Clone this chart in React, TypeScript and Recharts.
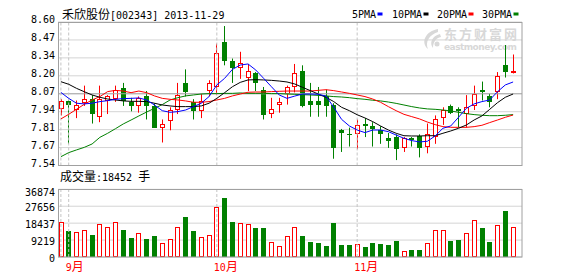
import { ComposedChart, Bar, Line, XAxis, YAxis, CartesianGrid, ReferenceLine } from 'recharts';

const DATES = [
  '08-30',
  '09-02', '09-03', '09-04', '09-05', '09-06', '09-09', '09-10', '09-11', '09-12', '09-13',
  '09-16', '09-17', '09-18', '09-23', '09-24', '09-25', '09-26', '09-27', '09-30',
  '10-08', '10-09', '10-10', '10-11', '10-14', '10-15', '10-16', '10-17', '10-18',
  '10-21', '10-22', '10-23', '10-24', '10-25', '10-28', '10-29', '10-30', '10-31',
  '11-01', '11-04', '11-05', '11-06', '11-07', '11-08', '11-11', '11-12', '11-13', '11-14', '11-15',
  '11-18', '11-19', '11-20', '11-21', '11-22', '11-25', '11-26', '11-27', '11-28', '11-29',
];

const OPEN = [
  7.96, 8.02, 7.95, 8.0, 8.03, 7.9, 8.02, 8.03, 8.11, 8.01,
  7.98, 8.05, 7.98, 7.82, 7.87, 7.95, 8.15, 8.01, 7.94, 8.09,
  8.12, 8.45, 8.31, 8.26, 8.19, 8.22, 8.1, 7.92, 7.99, 8.07,
  8.12, 8.24, 8.02, 8.02, 8.05, 7.99, 7.8, 7.775, 7.77, 7.85,
  7.83, 7.8, 7.74, 7.75, 7.67, 7.74, 7.76, 7.68, 7.75, 7.89,
  7.98, 7.955, 7.92, 7.98, 8.1, 8.05, 8.08, 8.28, 8.23,
];
const HIGH = [
  8.03, 8.02, 8.02, 8.13, 8.06, 8.13, 8.06, 8.13, 8.15, 8.04,
  8.05, 8.09, 8.0, 7.88, 7.97, 8.15, 8.25, 8.03, 8.07, 8.17,
  8.44, 8.57, 8.33, 8.38, 8.29, 8.23, 8.12, 8.04, 8.04, 8.13,
  8.29, 8.28, 8.15, 8.12, 8.1, 8.0, 7.81, 7.82, 7.88, 7.89,
  7.86, 7.83, 7.78, 7.77, 7.75, 7.75, 7.77, 7.85, 7.91, 7.97,
  7.99, 7.97, 8.06, 8.13, 8.16, 8.07, 8.23, 8.43, 8.36,
];
const LOW = [
  7.91, 7.7, 7.89, 7.98, 7.85, 7.86, 7.92, 8.01, 7.98, 7.94,
  7.93, 7.88, 7.82, 7.71, 7.8, 7.92, 8.05, 7.88, 7.89, 8.05,
  8.06, 8.28, 8.15, 8.18, 8.09, 8.09, 7.88, 7.89, 7.93, 7.99,
  8.08, 7.97, 7.9, 7.9, 7.9, 7.59, 7.64, 7.68, 7.66, 7.75,
  7.68, 7.7, 7.67, 7.58, 7.64, 7.68, 7.6, 7.63, 7.7, 7.84,
  7.92, 7.82, 7.82, 7.95, 8.02, 7.97, 8.03, 8.19, 8.22,
];
const CLOSE = [
  8.02, 7.99, 7.99, 8.03, 7.92, 8.03, 8.05, 8.1, 8.02, 7.98,
  8.04, 7.98, 7.82, 7.85, 7.95, 8.06, 8.08, 7.94, 8.02, 8.15,
  8.37, 8.31, 8.26, 8.3, 8.24, 8.15, 7.91, 7.96, 8.01, 8.12,
  8.22, 7.98, 7.99, 7.99, 7.98, 7.67, 7.78, 7.765, 7.84, 7.83,
  7.81, 7.77, 7.72, 7.66, 7.74, 7.73, 7.67, 7.77, 7.88, 7.95,
  7.93, 7.945, 7.97, 8.07, 8.085, 8.01, 8.2, 8.23, 8.24,
];
const VOLUME = [
  19100, 14300, 13600, 14700, 12000, 18000, 16300, 19100, 14700, 10400,
  13100, 9800, 11400, 7600, 9800, 16200, 21800, 14200, 10700, 11800,
  27100, 32100, 19100, 18500, 17800, 15800, 15800, 8200, 6000, 11300,
  16200, 11400, 8400, 7600, 6000, 18500, 6500, 6500, 7100, 5400,
  7600, 7100, 6500, 8700, 3300, 3800, 3800, 7600, 14700, 14700,
  8700, 9300, 13100, 20200, 15800, 8400, 17400, 25100, 16300,
];
const MA5 = [
  8.08, 8.036, 8.0, 7.995, 8.0, 8.012, 8.019, 8.029, 8.034, 8.036,
  8.039, 8.024, 7.987, 7.945, 7.933, 7.938, 7.95, 7.975, 8.0, 8.049,
  8.135, 8.184, 8.25, 8.282, 8.29, 8.245, 8.184, 8.122, 8.061, 8.036,
  8.053, 8.068, 8.068, 8.066, 8.053, 7.97, 7.881, 7.832, 7.802, 7.783,
  7.802, 7.802, 7.79, 7.765, 7.741, 7.724, 7.714, 7.719, 7.758, 7.815,
  7.832, 7.896, 7.962, 7.995, 8.012, 8.024, 8.085, 8.135, 8.157,
];
const MA10 = [
  8.159, 8.14, 8.11, 8.085, 8.061, 8.044, 8.031, 8.024, 8.017, 8.014,
  8.014, 8.012, 8.0, 7.987, 7.98, 7.975, 7.975, 7.975, 7.98, 8.0,
  8.036, 8.078, 8.122, 8.154, 8.172, 8.174, 8.172, 8.169, 8.164, 8.157,
  8.142, 8.117, 8.093, 8.068, 8.044, 8.012, 7.97, 7.945, 7.915, 7.891,
  7.864, 7.832, 7.802, 7.778, 7.76, 7.758, 7.758, 7.76, 7.76, 7.778,
  7.795, 7.815, 7.839, 7.876, 7.906, 7.955, 8.004, 8.044, 8.068,
];
const MA20 = [
  7.884, 7.918, 7.955, 7.992, 8.024, 8.049, 8.086, 8.095, 8.09, 8.078,
  8.09, 8.078, 8.054, 8.036, 8.029, 8.024, 8.017, 8.007, 8.007, 8.012,
  8.024, 8.036, 8.054, 8.068, 8.081, 8.083, 8.083, 8.086, 8.088, 8.09,
  8.09, 8.09, 8.09, 8.095, 8.1, 8.093, 8.083, 8.073, 8.061, 8.049,
  8.031, 8.007, 7.975, 7.945, 7.918, 7.901, 7.884, 7.861, 7.842, 7.827,
  7.822, 7.822, 7.822, 7.827, 7.837, 7.857, 7.876, 7.896, 7.913,
];
const MA30 = [
  7.605, 7.635, 7.655, 7.674, 7.699, 7.748, 7.778, 7.812, 7.847, 7.876,
  7.906, 7.935, 7.962, 7.99, 8.024, 8.041, 8.054, 8.061, 8.068, 8.071,
  8.071, 8.073, 8.073, 8.076, 8.073, 8.073, 8.073, 8.071, 8.071, 8.068,
  8.066, 8.063, 8.061, 8.058, 8.054, 8.049, 8.046, 8.041, 8.034, 8.029,
  8.022, 8.017, 8.009, 7.999, 7.987, 7.975, 7.965, 7.958, 7.955, 7.95,
  7.943, 7.933, 7.923, 7.916, 7.911, 7.908, 7.908, 7.911, 7.916,
];

const PRICE_TICKS = [7.54, 7.6725, 7.805, 7.9375, 8.07, 8.2025, 8.335, 8.4675, 8.6];
const PRICE_LABELS = ['7.54', '7.67', '7.81', '7.94', '8.07', '8.20', '8.34', '8.47', '8.60'];
const VOL_TICKS = [0, 9218.5, 18437, 27655.5, 36874];
const VOL_LABELS = ['0', '9219', '18437', '27656', '36874'];
const MONTH_LINES = ['08-30', '09-02', '10-08', '11-01'];
const MONTH_TICKS = ['09-02', '10-08', '11-01'];
const MONTH_LABELS = ['9', '10', '11'];

const RED = '#ff0000';
const GREEN = '#008000';
const BLUE = '#0000ff';
const BLACK = '#000000';
const BORDER = '#a0a0a0';
const GRID = '#d4d4d4';
const DASH = '#c4c4c4';
const MARK = '#d8d8d8';
const MONO = '"DejaVu Sans Mono", monospace';
const CJK = '"Noto Sans CJK SC", sans-serif';

const LEGEND = [
  { name: '5PMA', color: BLUE, x: 352 },
  { name: '10PMA', color: BLACK, x: 392 },
  { name: '20PMA', color: RED, x: 437 },
  { name: '30PMA', color: GREEN, x: 482 },
];

const data = DATES.map((d, i) => ({
  d,
  o: OPEN[i],
  h: HIGH[i],
  l: LOW[i],
  c: CLOSE[i],
  v: VOLUME[i],
  ma5: MA5[i],
  ma10: MA10[i],
  ma20: MA20[i],
  ma30: MA30[i],
}));

const W = 578;
const PAD = { left: -1, right: 5 };

function Candle(p: any) {
  const { x, y, width, height, payload } = p;
  const { o, c, h, l } = payload;
  const up = c >= o;
  const k = height / (h - l);
  const cx = Math.round(x + width / 2) + 0.5;
  const half = 2.5;
  const top = Math.round(y + (h - Math.max(o, c)) * k);
  let bot = Math.round(y + (h - Math.min(o, c)) * k);
  if (bot - top < 1) bot = top + 1;
  const color = up ? RED : GREEN;
  return (
    <g>
      <line x1={cx} x2={cx} y1={y} y2={y + height} stroke={color} strokeWidth={1} />
      {up ? (
        <rect x={cx - half + 0.5} y={top + 0.5} width={half * 2 - 1} height={Math.max(bot - top - 1, 1)}
          fill="#fff" stroke={color} strokeWidth={1} />
      ) : (
        <rect x={cx - half} y={top} width={half * 2} height={bot - top} fill={color} />
      )}
    </g>
  );
}

function VolBar(p: any) {
  const { x, y, width, height, payload } = p;
  const up = payload.c >= payload.o;
  const left = Math.round(x + width / 2) + 0.5 - 2.5;
  const top = Math.round(y);
  const bot = Math.round(y + height);
  if (up) {
    return <rect x={left + 0.5} y={top + 0.5} width={4} height={bot - top - 1} fill="#fff" stroke={RED} strokeWidth={1} />;
  }
  return <rect x={left} y={top} width={5} height={bot - top} fill={GREEN} />;
}

const PriceTick = (p: any) => {
  const i = PRICE_TICKS.indexOf(p.payload.value);
  return (
    <text x={p.x} y={p.y + 1} textAnchor="end" fontSize={10} fontFamily={MONO} fill="#000">
      {PRICE_LABELS[i]}
    </text>
  );
};

const VolTick = (p: any) => {
  const i = VOL_TICKS.indexOf(p.payload.value);
  return (
    <text x={p.x} y={p.y + (i === VOL_TICKS.length - 1 ? 7 : 5)} textAnchor="end" fontSize={10} fontFamily={MONO} fill="#000">
      {VOL_LABELS[i]}
    </text>
  );
};

const MonthTick = (p: any) => {
  const i = MONTH_TICKS.indexOf(p.payload.value);
  if (i < 0) return null;
  return (
    <text x={p.x - 3} y={p.y + 14} fill={RED}>
      <tspan fontSize={10} fontFamily={MONO}>{MONTH_LABELS[i]}</tspan>
      <tspan fontSize={12} fontFamily={CJK}>月</tspan>
    </text>
  );
};

export default function App() {
  return (
    <div style={{ position: 'absolute', left: 0, top: 0, width: W, height: 276, background: '#fff', overflow: 'hidden' }}>
      {/* watermark sits under the candles */}
      <svg width={W} height={276} style={{ position: 'absolute', left: 0, top: 0 }}>
        <g fill={MARK}>
          <path d="M438,29 C426,31 420,42 428,49 C425,42 429,35 438,32 Z" />
          <path d="M440,34 C432,36 429,43 433,48 C433,42 436,38 441,37 Z" />
          <circle cx={437} cy={44} r={2.5} />
        </g>
        <text x={444} y={38.5} fontSize={13} fontWeight="bold" fontFamily={CJK} fill={MARK} textLength={73}>东方财富网</text>
        <text x={444} y={50} fontSize={9} fontWeight="bold" fontFamily='"DejaVu Sans", sans-serif' fill={MARK} textLength={73}>eastmoney.com</text>
      </svg>

      <div style={{ position: 'absolute', left: 0, top: 0 }}>
        <ComposedChart width={W} height={170} data={data} margin={{ top: 22, right: 56, left: 0, bottom: 4.5 }}>
          <CartesianGrid vertical={false} stroke={GRID} />
          <XAxis dataKey="d" hide padding={PAD} />
          <YAxis domain={[7.54, 8.6]} ticks={PRICE_TICKS} interval={0} allowDataOverflow width={58}
            axisLine={false} tickLine={false} tickSize={0} tickMargin={3} tick={<PriceTick />} />
          <ReferenceLine y={8.07} stroke="#a8a8a8" />
          {MONTH_LINES.map((m) => (
            <ReferenceLine key={m} x={m} stroke={DASH} strokeDasharray="3 2" />
          ))}
          <Bar dataKey={(r: any) => [r.l, r.h]} barSize={5} shape={(p: any) => <Candle {...p} />} isAnimationActive={false} />
          <Line type="linear" dataKey="ma30" stroke={GREEN} strokeWidth={1} dot={false} isAnimationActive={false} />
          <Line type="linear" dataKey="ma20" stroke={RED} strokeWidth={1} dot={false} isAnimationActive={false} />
          <Line type="linear" dataKey="ma10" stroke={BLACK} strokeWidth={1} dot={false} isAnimationActive={false} />
          <Line type="linear" dataKey="ma5" stroke={BLUE} strokeWidth={1} dot={false} isAnimationActive={false} />
        </ComposedChart>
      </div>

      <div style={{ position: 'absolute', left: 0, top: 0 }}>
        <ComposedChart width={W} height={276} data={data} margin={{ top: 189.3, right: 56, left: 0, bottom: 0 }}>
          <CartesianGrid vertical={false} stroke={GRID} />
          <XAxis dataKey="d" padding={PAD} height={19} ticks={MONTH_TICKS} interval={0}
            axisLine={false} tickLine={false} tickSize={0} tickMargin={0} tick={<MonthTick />} />
          <YAxis domain={[0, 36874]} ticks={VOL_TICKS} interval={0} allowDataOverflow width={58}
            axisLine={false} tickLine={false} tickSize={0} tickMargin={3} tick={<VolTick />} />
          {MONTH_LINES.map((m) => (
            <ReferenceLine key={m} x={m} stroke={DASH} strokeDasharray="3 2" />
          ))}
          <Bar dataKey="v" barSize={5} shape={(p: any) => <VolBar {...p} />} isAnimationActive={false} />
        </ComposedChart>
      </div>

      <svg width={W} height={276} style={{ position: 'absolute', left: 0, top: 0, pointerEvents: 'none' }}>
        <rect x={58.5} y={22.5} width={463.5} height={143} fill="none" stroke={BORDER} strokeWidth={1} />
        <rect x={58.5} y={189.5} width={463.5} height={67.5} fill="none" stroke={BORDER} strokeWidth={1} />

        <text x={62} y={19} fill="#000">
          <tspan fontSize={12} fontFamily={CJK}>禾欣股份</tspan>
          <tspan fontSize={10} fontFamily={MONO}>[002343] 2013-11-29</tspan>
        </text>

        {LEGEND.map((s) => (
          <g key={s.name}>
            <text x={s.x} y={18} fontSize={10} fontFamily={MONO} fill="#000">{s.name}</text>
            <rect x={s.x + s.name.length * 6 + 1.5} y={12.5} width={5} height={3} fill={s.color} />
          </g>
        ))}

        <text x={60} y={181} fill="#000">
          <tspan fontSize={12} fontFamily={CJK}>成交量</tspan>
          <tspan fontSize={10} fontFamily={MONO}>:18452 </tspan>
          <tspan fontSize={12} fontFamily={CJK}>手</tspan>
        </text>
      </svg>
    </div>
  );
}
